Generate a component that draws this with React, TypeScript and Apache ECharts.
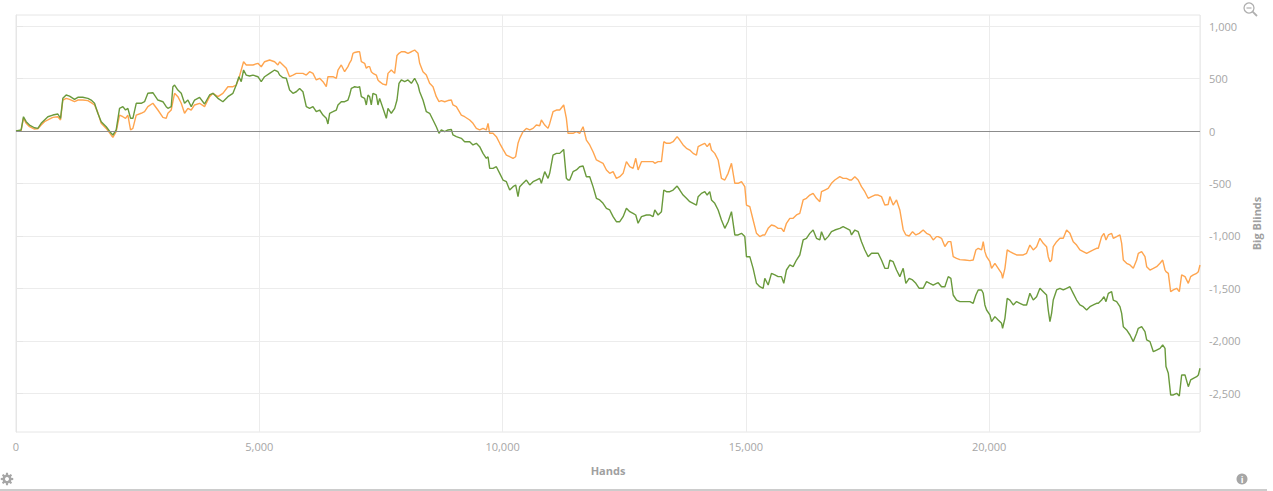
import React, { useEffect, useRef } from "react";
import * as echarts from "echarts";

// Hands played (x positions of samples)
const hands = [
  0, 106, 154, 209, 278, 380, 449, 517, 586, 655, 757, 860, 915, 963, 1031, 1100, 1203, 1271, 1374, 1477,
  1545, 1614, 1682, 1751, 1854, 1957, 1991, 2059, 2128, 2196, 2251, 2299, 2354, 2402, 2471, 2573, 2642, 2710,
  2813, 2916, 3019, 3087, 3122, 3190, 3224, 3259, 3327, 3396, 3464, 3533, 3601, 3670, 3773, 3875, 3978, 4047,
  4150, 4252, 4355, 4458, 4526, 4581, 4629, 4677, 4732, 4801, 4869, 4972, 5040, 5109, 5212, 5315, 5383,
  5418, 5486, 5555, 5623, 5692, 5760, 5829, 5897, 5966, 6034, 6103, 6171, 6240, 6309, 6377, 6411, 6446, 6514,
  6583, 6617, 6685, 6754, 6822, 6857, 6891, 6925, 6960, 7028, 7062, 7097, 7165, 7199, 7234, 7268, 7302, 7336,
  7405, 7439, 7473, 7542, 7611, 7645, 7713, 7782, 7830, 7871, 7919, 7988, 8056, 8125, 8193, 8262, 8296, 8364,
  8433, 8501, 8570, 8638, 8693, 8741, 8810, 8878, 8947, 8981, 9050,
  9152, 9221, 9324, 9392, 9461, 9529, 9598, 9666, 9701, 9735, 9803, 9872, 9941, 10009, 10078, 10146, 10215,
  10269, 10317, 10352, 10420, 10489, 10557, 10626, 10694, 10763, 10797, 10866, 10934, 10968, 11037, 11106,
  11174, 11256, 11311, 11345, 11380, 11448, 11517, 11585, 11654, 11722, 11791, 11859, 11928, 11996, 12065,
  12134, 12202, 12271, 12339,
  12408, 12477, 12545, 12614, 12682, 12737, 12785, 12854, 12956, 13025, 13093, 13128, 13196, 13265, 13313,
  13368, 13436, 13505, 13587, 13642, 13710, 13779, 13847, 13916, 13984, 14019, 14087, 14156, 14204, 14258,
  14293, 14361, 14430, 14498, 14567, 14635, 14704, 14773, 14841, 14910, 14978, 15012, 15081, 15149, 15218,
  15286, 15355, 15389, 15458, 15526, 15595,
  15663, 15731, 15779, 15834, 15903, 15971, 16040, 16108, 16177, 16245, 16314, 16382, 16451, 16520, 16554,
  16622, 16691, 16759, 16828, 16931, 16999, 17068, 17136, 17171, 17239, 17308, 17376, 17445, 17513, 17582,
  17650, 17719, 17787, 17856, 17924, 17959, 18027, 18096, 18164, 18233, 18288, 18356, 18425, 18493, 18562,
  18644, 18713, 18781, 18850, 18918,
  18953, 19021, 19090, 19159, 19213, 19261, 19330, 19398, 19501, 19604, 19672, 19727, 19775, 19844, 19878,
  19912, 19947, 20015, 20049, 20118, 20186, 20255, 20276, 20324, 20371, 20426, 20495, 20563, 20632, 20700,
  20769, 20837, 20906, 20975, 21043, 21112, 21180, 21214, 21249, 21283, 21317, 21386, 21454, 21523, 21591,
  21660, 21728, 21797, 21865, 21934, 22003, 22071, 22140, 22208,
  22243, 22311, 22359, 22401, 22449, 22517, 22551, 22620, 22688, 22723, 22757, 22825, 22894, 22962, 23031,
  23065, 23134, 23202, 23237, 23305, 23374, 23442, 23511, 23566, 23614, 23634, 23682, 23730, 23785, 23853,
  23908, 23956, 24025, 24093, 24141, 24196, 24264, 24299, 24333,
];

// Net won (green), big blinds
const netWon = [
  0, 10, 136, 89, 57, 31, 25, 73, 105, 136, 152, 162, 121, 311, 343, 333, 302, 321, 321, 311,
  295, 264, 169, 89, 41, -22, -38, 10, 216, 232, 200, 216, 121, 121, 264, 264, 279, 359,
  365, 295, 279, 232, 216, 232, 422, 438, 390, 359, 264, 295, 232, 295, 321, 257, 343, 359,
  311, 279, 327, 359, 438, 517, 470, 581, 533, 524, 533, 517, 470, 517, 549, 581, 565,
  533, 508, 502, 390, 359, 374, 406, 374, 232, 216, 232, 184, 200, 152, 121, 67, 169, 184,
  200, 248, 279, 279, 295, 343, 406, 414, 422, 416, 422, 327, 311, 248, 343, 327, 248, 359,
  343, 248, 311, 216, 121, 216, 169, 216, 295, 454, 486, 470, 486, 454, 502, 438, 374, 295,
  184, 169, 105, 41, -22, 10, -6, 10, 15, -38, -54,
  -70, -102, -102, -133, -117, -149, -213, -260, -245, -356, -356, -340, -403, -467, -483, -562, -530,
  -514, -626, -530, -498, -467, -514, -483, -467, -451, -498, -387, -451, -403, -229, -213,
  -213, -175, -451, -467, -467, -387, -371, -340, -333, -435, -435, -530, -641, -657, -689,
  -736, -752, -816, -864,
  -864, -816, -736, -768, -784, -800, -879, -816, -800, -800, -816, -752, -800, -768, -562,
  -578, -578, -562, -524, -562, -610, -641, -673, -689, -705, -626, -594, -578, -610, -578,
  -657, -689, -752, -848, -927, -864, -768, -990, -990, -975, -1006, -1197, -1197, -1308, -1451,
  -1483, -1498, -1403, -1467, -1356, -1371,
  -1387, -1387, -1451, -1324, -1276, -1292, -1229, -1181, -1038, -1022, -975, -943, -1022, -1038, -959,
  -1038, -1006, -959, -943, -927, -911, -927, -943, -990, -943, -959, -1054, -1133, -1197, -1165,
  -1165, -1165, -1229, -1308, -1308, -1229, -1245, -1324, -1387, -1308, -1451, -1403, -1419, -1451, -1498,
  -1498, -1435, -1451, -1467, -1451,
  -1445, -1483, -1483, -1387, -1403, -1562, -1610, -1625, -1625, -1625, -1641, -1562, -1514, -1514, -1546,
  -1657, -1705, -1752, -1816, -1768, -1800, -1832, -1879, -1784, -1594, -1610, -1657, -1625, -1641, -1657,
  -1657, -1546, -1610, -1578, -1498, -1530, -1562, -1705, -1816, -1737, -1610, -1514, -1498, -1514, -1498,
  -1483, -1546, -1610, -1657, -1673, -1705, -1673, -1657, -1641,
  -1641, -1610, -1578, -1625, -1546, -1530, -1610, -1625, -1673, -1737, -1864, -1895, -1943, -2006, -1927,
  -1879, -1864, -1911, -1990, -2006, -2102, -2086, -2070, -2038, -2070, -2244, -2308, -2514, -2514, -2498,
  -2524, -2324, -2324, -2435, -2371, -2356, -2340, -2324, -2260,
];

// All-in adjusted (orange), big blinds
const allInAdj = [
  0, 5, 124, 73, 41, 19, 20, 57, 89, 105, 130, 136, 105, 295, 311, 302, 279, 295, 295, 289,
  270, 248, 175, 73, 25, -40, -60, -6, 152, 136, 121, 152, 10, 25, 152, 169, 184, 232,
  264, 200, 130, 121, 169, 200, 279, 359, 327, 264, 169, 216, 200, 248, 264, 232, 327, 359,
  327, 359, 422, 422, 438, 502, 581, 660, 629, 629, 629, 645, 612, 660, 676, 660, 629,
  660, 629, 597, 517, 533, 549, 549, 549, 533, 565, 549, 486, 502, 470, 422, 517, 517, 517,
  502, 581, 629, 565, 613, 650, 676, 740, 748, 755, 755, 660, 645, 597, 613, 613, 565, 549,
  533, 486, 470, 446, 438, 549, 581, 549, 720, 740, 755, 755, 740, 755, 771, 740, 645, 565,
  533, 454, 422, 327, 280, 290, 279, 290, 295, 248, 232,
  152, 136, 105, 73, 25, 10, 25, 10, 73, -22, -22, -54, -117, -175, -229, -245, -260,
  -245, -117, -70, -6, 25, 10, 25, 57, 50, 105, 57, 25, 70, 184, 200,
  200, 248, 121, -22, -22, -22, -6, -22, 41, -86, -133, -197, -276, -292, -308,
  -371, -403, -387, -451,
  -435, -403, -292, -340, -356, -260, -371, -292, -292, -292, -292, -308, -292, -292, -102,
  -117, -117, -102, -54, -86, -133, -165, -181, -213, -229, -149, -133, -117, -149, -117,
  -181, -213, -276, -451, -467, -403, -308, -498, -498, -482, -530, -705, -721, -848, -975,
  -1006, -990, -990, -927, -895, -905,
  -927, -927, -959, -879, -832, -832, -800, -784, -657, -641, -610, -594, -641, -673, -578,
  -562, -546, -498, -467, -435, -451, -451, -467, -467, -435, -467, -530, -578, -641, -625,
  -610, -610, -625, -705, -700, -625, -705, -657, -752, -940, -990, -1000, -959, -990, -975,
  -943, -975, -990, -1038, -1006,
  -1006, -1022, -1100, -1054, -1054, -1197, -1213, -1225, -1229, -1235, -1229, -1133, -1117, -1133, -1054,
  -1149, -1197, -1245, -1308, -1260, -1308, -1356, -1403, -1308, -1133, -1149, -1165, -1181, -1181, -1181,
  -1165, -1086, -1133, -1102, -1022, -1070, -1102, -1197, -1245, -1229, -1102, -1054, -1022, -1022, -943,
  -975, -1054, -1086, -1133, -1149, -1165, -1149, -1133, -1117,
  -1117, -1006, -975, -1038, -990, -975, -1022, -1006, -990, -1070, -1229, -1260, -1276, -1308, -1229,
  -1165, -1149, -1197, -1292, -1324, -1308, -1292, -1260, -1229, -1324, -1340, -1356, -1530, -1514, -1498,
  -1530, -1371, -1387, -1451, -1387, -1371, -1356, -1340, -1276,
];

const yTicks = [-2500, -2000, -1500, -1000, -500, 0, 500, 1000];
const Y_MIN = -2867;
const Y_MAX = 1105;
const X_MAX = 24333;

const fmt = (v: number) => Math.round(v).toLocaleString("en-US");

function gearPoints(cx: number, cy: number): number[][] {
  const pts: number[][] = [];
  const teeth = 8;
  for (let i = 0; i < teeth; i++) {
    const a = (i * 2 * Math.PI) / teeth;
    const step = (2 * Math.PI) / teeth;
    const angs = [a - step * 0.36, a - step * 0.2, a + step * 0.2, a + step * 0.36];
    const rads = [4.4, 6.3, 6.3, 4.4];
    for (let k = 0; k < 4; k++) {
      pts.push([cx + rads[k] * Math.cos(angs[k]), cy + rads[k] * Math.sin(angs[k])]);
    }
  }
  return pts;
}

export default function App() {
  const ref = useRef<HTMLDivElement>(null);
  useEffect(() => {
    if (!ref.current) return;
    const chart = echarts.init(ref.current, undefined, { renderer: "svg" });
    const font = "'Open Sans', 'Noto Sans', sans-serif";
    const green = hands.map((h, i) => [h, netWon[i]]);
    const orange = hands.map((h, i) => [h, allInAdj[i]]);
    chart.setOption({
      animation: false,
      backgroundColor: "#ffffff",
      grid: {
        left: 16,
        top: 15,
        right: 73,
        bottom: 59,
        show: true,
        borderColor: "#e6e6e6",
        borderWidth: 1,
      },
      xAxis: {
        type: "value",
        min: 0,
        max: X_MAX,
        interval: 5000,
        name: "Hands",
        nameLocation: "middle",
        nameGap: 33,
        nameTextStyle: { color: "#a0a0a0", fontWeight: "bold", fontSize: 11, fontFamily: font },
        axisLine: { show: true, lineStyle: { color: "#e6e6e6" } },
        axisTick: { show: true, length: 8, lineStyle: { color: "#e6e6e6" } },
        axisLabel: {
          color: "#a6a6a6",
          fontSize: 11,
          fontFamily: font,
          margin: 9,
          formatter: (v: number) => fmt(v),
          showMaxLabel: false,
        },
        splitLine: { show: true, lineStyle: { color: "#ececec" } },
      },
      yAxis: {
        type: "value",
        position: "right",
        min: Y_MIN,
        max: Y_MAX,
        name: "Big Blinds",
        nameLocation: "middle",
        nameRotate: 90,
        nameGap: 42,
        nameTextStyle: { color: "#a0a0a0", fontWeight: "bold", fontSize: 11, fontFamily: font },
        axisLine: { show: true, lineStyle: { color: "#e6e6e6" } },
        axisTick: { show: true, length: 7, customValues: yTicks, lineStyle: { color: "#e6e6e6" } },
        axisLabel: {
          customValues: yTicks,
          color: "#a6a6a6",
          fontSize: 11,
          fontFamily: font,
          margin: 9,
          formatter: (v: number) => fmt(v),
        },
        splitLine: { show: true, lineStyle: { color: "#ececec" } },
      },
      series: [
        {
          name: "All-in Adj.",
          type: "line",
          data: orange,
          showSymbol: false,
          symbol: "none",
          lineStyle: { color: "#ffa54f", width: 1.4 },
          itemStyle: { color: "#ffa54f" },
          markLine: {
            silent: true,
            symbol: "none",
            label: { show: false },
            lineStyle: { color: "#8c8c8c", width: 1.2, type: "solid" },
            data: [{ yAxis: 0 }],
          },
          z: 2,
        },
        {
          name: "Net Won",
          type: "line",
          data: green,
          showSymbol: false,
          symbol: "none",
          lineStyle: { color: "#6a9a3c", width: 1.4 },
          itemStyle: { color: "#6a9a3c" },
          z: 3,
        },
      ],
      graphic: [
        // zoom-out magnifier icon
        { type: "circle", shape: { cx: 1249, cy: 8, r: 5 }, style: { fill: "none", stroke: "#b0b0b0", lineWidth: 1.3 } },
        { type: "line", shape: { x1: 1252.6, y1: 11.6, x2: 1257, y2: 16 }, style: { stroke: "#b0b0b0", lineWidth: 1.8 } },
        { type: "line", shape: { x1: 1246.5, y1: 8, x2: 1251.5, y2: 8 }, style: { stroke: "#b0b0b0", lineWidth: 1.2 } },
        // gear icon
        { type: "polygon", shape: { points: gearPoints(7, 479) }, style: { fill: "#a6a6a6" } },
        { type: "circle", shape: { cx: 7, cy: 479, r: 2 }, style: { fill: "#ffffff" } },
        // info icon
        { type: "circle", shape: { cx: 1242, cy: 479, r: 5.5 }, style: { fill: "#a6a6a6" } },
        {
          type: "text",
          x: 1242,
          y: 479.5,
          style: { text: "i", fill: "#ffffff", font: "bold 9px 'Open Sans'", align: "center", verticalAlign: "middle" },
        },
        // bottom border
        { type: "rect", shape: { x: 0, y: 489, width: 1267, height: 2 }, style: { fill: "#cccccc" } },
      ],
    });
    return () => chart.dispose();
  }, []);
  return (
    <div
      ref={ref}
      style={{ position: "absolute", left: 0, top: 0, width: 1273, height: 491, background: "#fff" }}
    />
  );
}
